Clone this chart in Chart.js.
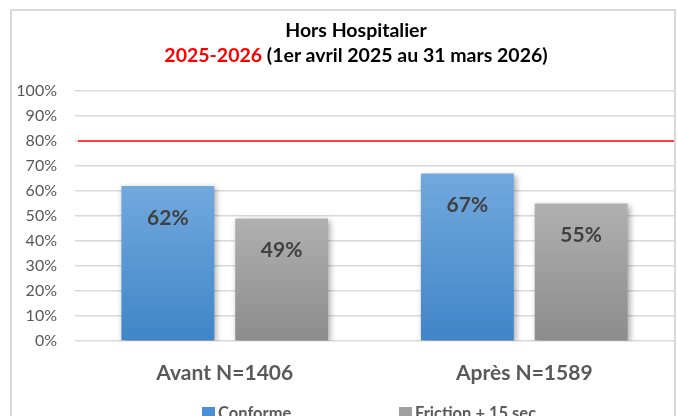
<!DOCTYPE html>
<html>
<head>
<meta charset="utf-8">
<script src="https://cdn.jsdelivr.net/npm/chart.js@4.4.1/dist/chart.umd.min.js"></script>
<style>
    html, body { margin: 0; padding: 0; background: #fff; overflow: hidden; }
    body { width: 678px; height: 416px; position: relative; font-family: Lato, sans-serif; }
    #frame {
        position: absolute; left: 10px; top: 9px; width: 666px; height: 430px;
        border: 2px solid #d9d9d9; box-sizing: border-box; pointer-events: none;
    }
    #wrap { position: absolute; left: 0; top: 0; width: 678px; height: 426px; }
    .title { position: absolute; left: 0; width: 712px; text-align: center; font-weight: bold; color: #000; font-size: 19.5px; }
    #t1 { top: 18px; }
    #t2 { top: 43px; }
    #t2 span { color: #ff0000; }
    #legend { position: absolute; top: 403px; left: 0; width: 678px; height: 20px; }
    .item { position: absolute; top: 0; font: bold 16.5px Lato; color: #595959; white-space: nowrap; line-height: 20px; }
    .item i { display: inline-block; width: 13px; height: 13px; margin-right: 3px; vertical-align: -1px; }
</style>
</head>
<body>
<div id="wrap"><canvas id="chart"></canvas></div>
<div id="frame"></div>
<div class="title" id="t1">Hors Hospitalier</div>
<div class="title" id="t2"><span>2025-2026</span> (1er avril 2025 au 31 mars 2026)</div>
<div id="legend"></div>
<script>
// Chart data
const categories = ['Avant N=1406', 'Après N=1589'];
const conformeValues = [62, 67];
const frictionValues = [49, 55];
const seriesNames = ['Conforme', 'Friction + 15 sec'];
const targetValue = 80;
const yTicks = [0, 10, 20, 30, 40, 50, 60, 70, 80, 90, 100];

const blueTop = '#72a9de', blueBottom = '#3f85c8';
const grayTop = '#b0b0b0', grayBottom = '#8c8c8c';
const legendColors = ['#4a90d6', '#a0a0a0'];
const legendLeft = [202, 399];

// Vertical gradient for each bar, lighter at the top
function barGradient(top, bottom) {
    return function(context) {
        const chart = context.chart;
        const area = chart.chartArea;
        if (!area || context.raw === undefined) return bottom;
        const yTop = chart.scales.y.getPixelForValue(context.raw);
        const g = chart.ctx.createLinearGradient(0, yTop, 0, area.bottom);
        g.addColorStop(0, top);
        g.addColorStop(1, bottom);
        return g;
    };
}

// Drop shadow under the bars
const shadowPlugin = {
    id: 'barShadow',
    beforeDatasetsDraw(chart) {
        const ctx = chart.ctx;
        ctx.save();
        ctx.shadowColor = 'rgba(0, 0, 0, 0.35)';
        ctx.shadowBlur = 6;
        ctx.shadowOffsetX = 2;
        ctx.shadowOffsetY = 2;
    },
    afterDatasetsDraw(chart) {
        chart.ctx.restore();
    }
};

// Red target line at 80%
const targetLinePlugin = {
    id: 'targetLine',
    beforeDatasetsDraw(chart) {
        const { ctx, chartArea, scales } = chart;
        const y = Math.round(scales.y.getPixelForValue(targetValue));
        ctx.save();
        ctx.strokeStyle = '#ff4040';
        ctx.lineWidth = 2;
        ctx.beginPath();
        ctx.moveTo(chartArea.left + 3, y);
        ctx.lineTo(chartArea.right, y);
        ctx.stroke();
        ctx.restore();
    }
};

// Value labels inside the bars
const valueLabelPlugin = {
    id: 'valueLabels',
    afterDatasetsDraw(chart) {
        const ctx = chart.ctx;
        ctx.save();
        ctx.font = 'bold 21px Lato';
        ctx.fillStyle = '#404040';
        ctx.textAlign = 'center';
        ctx.textBaseline = 'middle';
        chart.data.datasets.forEach((ds, i) => {
            chart.getDatasetMeta(i).data.forEach((bar, j) => {
                ctx.fillText(ds.data[j] + '%', bar.x, bar.y + 32);
            });
        });
        ctx.restore();
    }
};

new Chart(document.getElementById('chart'), {
    type: 'bar',
    data: {
        labels: categories,
        datasets: [
            {
                label: seriesNames[0],
                data: conformeValues,
                backgroundColor: barGradient(blueTop, blueBottom)
            },
            {
                label: seriesNames[1],
                data: frictionValues,
                backgroundColor: barGradient(grayTop, grayBottom)
            }
        ]
    },
    options: {
        responsive: true,
        maintainAspectRatio: false,
        animation: false,
        categoryPercentage: 0.76,
        barPercentage: 0.816,
        layout: { padding: { top: 91, right: 4, left: 0, bottom: 0 } },
        scales: {
            x: {
                grid: { display: false, drawTicks: false },
                border: { display: false },
                ticks: {
                    padding: 20,
                    color: '#595959',
                    font: { family: 'Lato', size: 21, weight: 'bold' }
                },
                afterFit: (scale) => { scale.height = 85; }
            },
            y: {
                min: 0,
                max: 100,
                afterBuildTicks: (scale) => { scale.ticks = yTicks.map(v => ({ value: v })); },
                grid: { color: '#d9d9d9', lineWidth: 1.5, drawTicks: false },
                border: { display: false },
                ticks: {
                    padding: 18,
                    color: '#595959',
                    font: { family: 'Lato', size: 16 },
                    callback: (v) => v + '%'
                },
                afterFit: (scale) => { scale.width = 75; }
            }
        },
        plugins: {
            legend: { display: false },
            tooltip: { enabled: false }
        }
    },
    plugins: [targetLinePlugin, shadowPlugin, valueLabelPlugin]
});

// Legend below the chart
const legendBox = document.getElementById('legend');
seriesNames.forEach((name, i) => {
    const item = document.createElement('div');
    item.className = 'item';
    item.style.left = legendLeft[i] + 'px';
    item.innerHTML = '<i style="background:' + legendColors[i] + '"></i>' + name;
    legendBox.appendChild(item);
});
</script>
</body>
</html>
